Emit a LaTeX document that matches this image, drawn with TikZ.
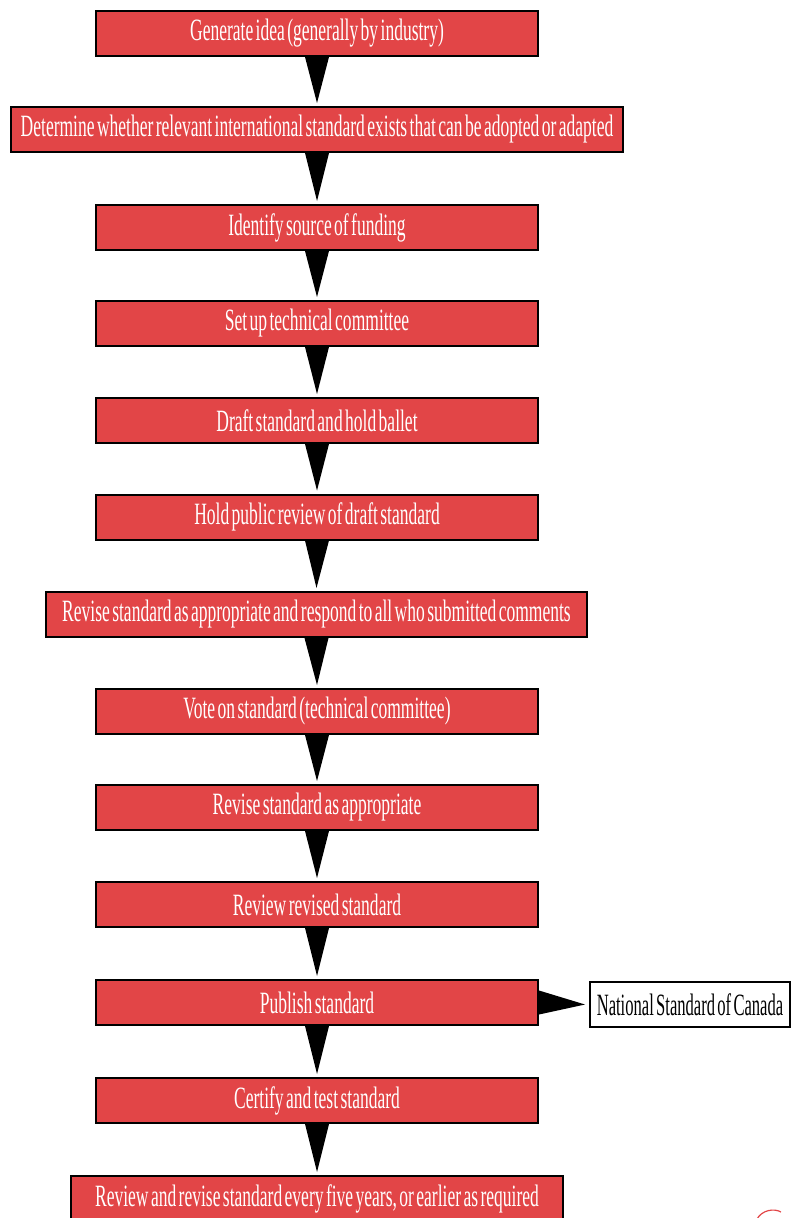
\documentclass[tikz,border=0pt]{standalone}
\usepackage{fontspec}
\newfontfamily\cond[FakeStretch=0.565,WordSpace=0.55]{Liberation Serif}
\newfontfamily\condb[FakeStretch=0.535,WordSpace=0.55]{Liberation Serif}
\definecolor{boxred}{HTML}{E24547}
\tikzset{
  stepbox/.style={draw=black, line width=2pt, fill=boxred, text=white, inner sep=0pt,
    minimum height=45pt, font=\cond\fontsize{31}{31}\selectfont},
  wide/.style={stepbox, minimum width=442pt},
  outbox/.style={draw=black, line width=2pt, fill=white, text=black, inner sep=0pt,
    minimum width=200pt, minimum height=45pt, font=\condb\fontsize{31}{31}\selectfont},
}
\begin{document}
\begin{tikzpicture}[x=1pt,y=-1pt]
\useasboundingbox (0,0) rectangle (794,1218);
\node[wide] (n1) at (317,33.5) {Generate idea (generally by industry)};
\node[stepbox, minimum width=612pt] (n2) at (317,129.5) {Determine whether relevant international standard exists that can be adopted or adapted};
\node[wide] (n3) at (317,227.5) {Identify source of funding};
\node[wide] (n4) at (317,323.5) {Set up technical committee};
\node[wide] (n5) at (317,420.5) {Draft standard and hold ballet};
\node[wide] (n6) at (317,517) {Hold public review of draft standard};
\node[stepbox, minimum width=541pt] (n7) at (316.5,614.5) {Revise standard as appropriate and respond to all who submitted comments};
\node[wide] (n8) at (317,711.5) {Vote on standard (technical committee)};
\node[wide] (n9) at (317,807.5) {Revise standard as appropriate};
\node[wide] (n10) at (317,904.5) {Review revised standard};
\node[wide] (n11) at (317,1002.5) {Publish standard};
\node[wide] (n12) at (317,1100.5) {Certify and test standard};
\node[stepbox, minimum width=492pt] (n13) at (317,1198.5) {Review and revise standard every five years, or earlier as required};
\node[outbox] (nsc) at (690,1004.5) {National Standard of Canada};
\foreach \a/\b in {n1/n2,n2/n3,n3/n4,n4/n5,n5/n6,n6/n7,n7/n8,n8/n9,n9/n10,n10/n11,n11/n12,n12/n13}{
  \fill[black] ([xshift=-12pt]\a.south) -- ([xshift=12pt]\a.south) -- ([yshift=3pt]\b.north) -- cycle;
}
\fill[black] ([yshift=12pt]n11.east) -- ([yshift=-12pt]n11.east) -- ([xshift=-4pt]nsc.west) -- cycle;
\draw[boxred, line width=1.2pt] (757,1219) .. controls (762,1210) and (774,1208) .. (781,1212);
\end{tikzpicture}
\end{document}
